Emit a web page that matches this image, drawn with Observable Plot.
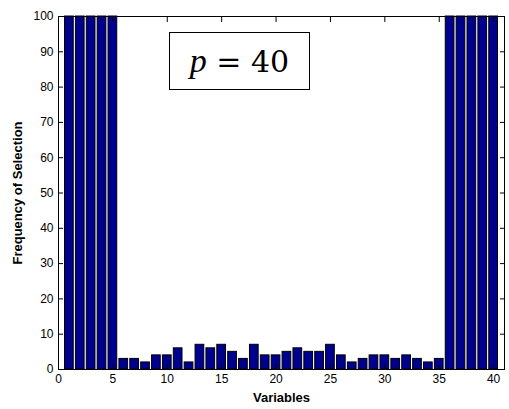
<!DOCTYPE html>
<html>
<head>
<meta charset="utf-8">
<script src="https://cdn.jsdelivr.net/npm/d3@7"></script>
<script src="https://cdn.jsdelivr.net/npm/@observablehq/plot@0.6"></script>
<style>
  html, body { margin: 0; padding: 0; background: #fff; }
  #wrap { position: relative; width: 509px; height: 409px; }
  #note {
    position: absolute; left: 169px; top: 32px; width: 141px; height: 58px;
    border: 1px solid #000; background: #fff; box-sizing: border-box;
    font-family: "DejaVu Serif", "Liberation Serif", serif; font-size: 30px;
    text-align: center; line-height: 56px; color: #000;
  }
  #note i { font-family: "Liberation Serif", serif; font-size: 34px; }
</style>
</head>
<body>
<div id="wrap"><div id="note"><i>p</i> = 40</div></div>
<script>
const variables = d3.range(1, 41);
const frequency = [100, 100, 100, 100, 100, 3, 3, 2, 4, 4,
                   6, 2, 7, 6, 7, 5, 3, 7, 4, 4,
                   5, 6, 5, 5, 7, 4, 2, 3, 4, 4,
                   3, 4, 3, 2, 3, 100, 100, 100, 100, 100];
const xTicks = [0, 5, 10, 15, 20, 25, 30, 35, 40];
const yTicks = [0, 10, 20, 30, 40, 50, 60, 70, 80, 90, 100];

const data = variables.map((v, i) => ({v, f: frequency[i]}));

const chart = Plot.plot({
  width: 509,
  height: 409,
  marginLeft: 58,
  marginRight: 5,
  marginTop: 16,
  marginBottom: 40,
  style: {fontFamily: "Liberation Sans, Arial, sans-serif", fontSize: "12px", color: "#000", background: "#fff"},
  x: {domain: [0, 41]},
  y: {domain: [0, 100]},
  marks: [
    Plot.rectY(data, {x1: d => d.v - 0.4, x2: d => d.v + 0.4, y: "f", fill: "#00008F", stroke: "#000", strokeWidth: 1}),
    Plot.axisX({ticks: xTicks, tickSize: -5, tickPadding: 10, label: "Variables", labelAnchor: "center", labelArrow: "none", labelOffset: 32}),
    Plot.axisX({anchor: "top", ticks: xTicks, tickSize: -5, tickFormat: () => "", label: null}),
    Plot.axisY({ticks: yTicks, tickSize: -5, tickPadding: 10, label: "Frequency of Selection", labelAnchor: "center", labelArrow: "none", labelOffset: 46}),
    Plot.axisY({anchor: "right", ticks: yTicks, tickSize: -5, tickFormat: () => "", label: null}),
    Plot.frame({stroke: "#000"})
  ]
});
chart.querySelectorAll("[aria-label='x-axis label'], [aria-label='y-axis label']").forEach(g => {
  g.setAttribute("font-weight", "bold");
  g.setAttribute("font-size", "13px");
});
document.getElementById("wrap").prepend(chart);
</script>
</body>
</html>
